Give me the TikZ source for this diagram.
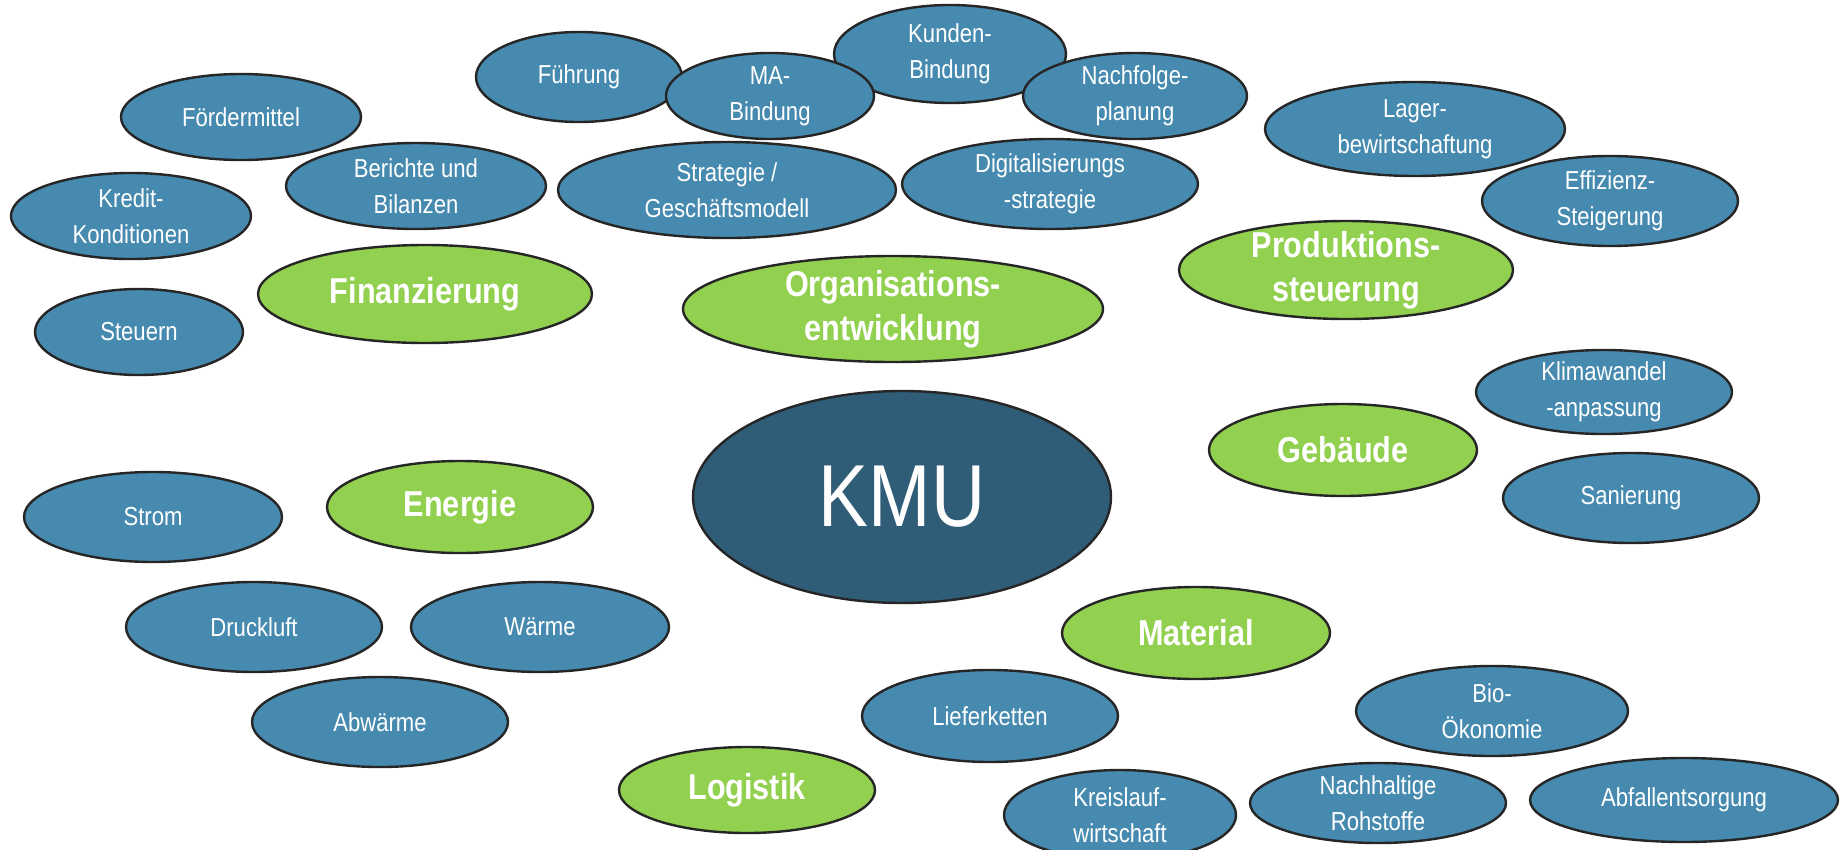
\documentclass[tikz,border=0pt]{standalone}
\usepackage{fontspec}
\setmainfont{Liberation Sans}[FakeStretch=0.85]
\usetikzlibrary{shapes.geometric}

\definecolor{itemblue}{HTML}{478AB0}
\definecolor{topicgreen}{HTML}{92D050}
\definecolor{coreblue}{HTML}{2F5C77}
\definecolor{edgegray}{HTML}{262626}

\tikzset{
  bubble/.style={ellipse, draw=edgegray, line width=2.4pt, inner sep=0pt},
  item/.style={bubble, fill=itemblue},
  topic/.style={bubble, fill=topicgreen},
  core/.style={bubble, fill=coreblue},
  itemtext/.style={text=white, align=center, inner sep=0pt,
    font=\fontsize{26}{36}\selectfont},
  topictext/.style={text=white, align=center, inner sep=0pt,
    font=\fontsize{36}{44}\selectfont\bfseries},
  coretext/.style={text=white, align=center, inner sep=0pt,
    font=\fontsize{88}{100}\selectfont},
}

\begin{document}
\begin{tikzpicture}[x=1pt, y=-1pt]
\useasboundingbox (0,0) rectangle (1841,849);

% centre
\node[core, minimum width=418pt, minimum height=212pt,
  label={[coretext]center:KMU}] (kmu) at (902,497) {};

% main topics
\node[topic, minimum width=334pt, minimum height=98pt,
  label={[topictext]center:Finanzierung}] (fin) at (425,294) {};
\node[topic, minimum width=420pt, minimum height=106pt,
  label={[topictext]center:Organisations-\\entwicklung}] (org) at (893,309) {};
\node[topic, minimum width=334pt, minimum height=98pt,
  label={[topictext]center:Produktions-\\steuerung}] (prod) at (1346,270) {};
\node[topic, minimum width=268pt, minimum height=92pt,
  label={[topictext]center:Gebäude}] (geb) at (1343,450) {};
\node[topic, minimum width=266pt, minimum height=92pt,
  label={[topictext]center:Energie}] (ener) at (460,507) {};
\node[topic, minimum width=268pt, minimum height=92pt,
  label={[topictext]center:Material}] (mat) at (1196,633) {};
\node[topic, minimum width=256pt, minimum height=86pt,
  label={[topictext]center:Logistik}] (log) at (747,790) {};

% organisation
\node[item, minimum width=206pt, minimum height=90pt,
  label={[itemtext]center:Führung}] (fuehr) at (579,77) {};
\node[item, minimum width=232pt, minimum height=98pt,
  label={[itemtext]center:Kunden-\\Bindung}] (kunden) at (950,54) {};
\node[item, minimum width=208pt, minimum height=86pt,
  label={[itemtext]center:MA-\\Bindung}] (ma) at (770,96) {};
\node[item, minimum width=224pt, minimum height=86pt,
  label={[itemtext]center:Nachfolge-\\planung}] (nachf) at (1135,96) {};
\node[item, minimum width=338pt, minimum height=96pt,
  label={[itemtext]center:Strategie /\\Geschäftsmodell}] (strat) at (727,190) {};
\node[item, minimum width=296pt, minimum height=90pt,
  label={[itemtext]center:Digitalisierungs\\-strategie}] (digi) at (1050,184) {};

% finance
\node[item, minimum width=240pt, minimum height=86pt,
  label={[itemtext]center:Fördermittel}] (foerd) at (241,117) {};
\node[item, minimum width=260pt, minimum height=86pt,
  label={[itemtext]center:Berichte und\\Bilanzen}] (ber) at (416,186) {};
\node[item, minimum width=240pt, minimum height=86pt,
  label={[itemtext]center:Kredit-\\Konditionen}] (kred) at (131,216) {};
\node[item, minimum width=208pt, minimum height=86pt,
  label={[itemtext]center:Steuern}] (steu) at (139,332) {};

% production
\node[item, minimum width=300pt, minimum height=94pt,
  label={[itemtext]center:Lager-\\bewirtschaftung}] (lager) at (1415,129) {};
\node[item, minimum width=256pt, minimum height=90pt,
  label={[itemtext]center:Effizienz-\\Steigerung}] (eff) at (1610,201) {};

% building
\node[item, minimum width=256pt, minimum height=84pt,
  label={[itemtext]center:Klimawandel\\-anpassung}] (klima) at (1604,392) {};
\node[item, minimum width=256pt, minimum height=90pt,
  label={[itemtext]center:Sanierung}] (san) at (1631,498) {};

% energy
\node[item, minimum width=258pt, minimum height=90pt,
  label={[itemtext]center:Strom}] (strom) at (153,517) {};
\node[item, minimum width=256pt, minimum height=90pt,
  label={[itemtext]center:Druckluft}] (druck) at (254,627) {};
\node[item, minimum width=258pt, minimum height=90pt,
  label={[itemtext]center:Wärme}] (waerme) at (540,627) {};
\node[item, minimum width=256pt, minimum height=90pt,
  label={[itemtext]center:Abwärme}] (abw) at (380,722) {};

% material and logistics
\node[item, minimum width=256pt, minimum height=92pt,
  label={[itemtext]center:Lieferketten}] (lief) at (990,716) {};
\node[item, minimum width=272pt, minimum height=90pt,
  label={[itemtext]center:Bio-\\Ökonomie}] (bio) at (1492,711) {};
\node[item, minimum width=232pt, minimum height=90pt,
  label={[itemtext]center:Kreislauf-\\wirtschaft}] (kreis) at (1120,815) {};
\node[item, minimum width=256pt, minimum height=80pt,
  label={[itemtext]center:Nachhaltige\\Rohstoffe}] (roh) at (1378,803) {};
\node[item, minimum width=308pt, minimum height=84pt,
  label={[itemtext]center:Abfallentsorgung}] (abf) at (1684,800) {};
\end{tikzpicture}
\end{document}
